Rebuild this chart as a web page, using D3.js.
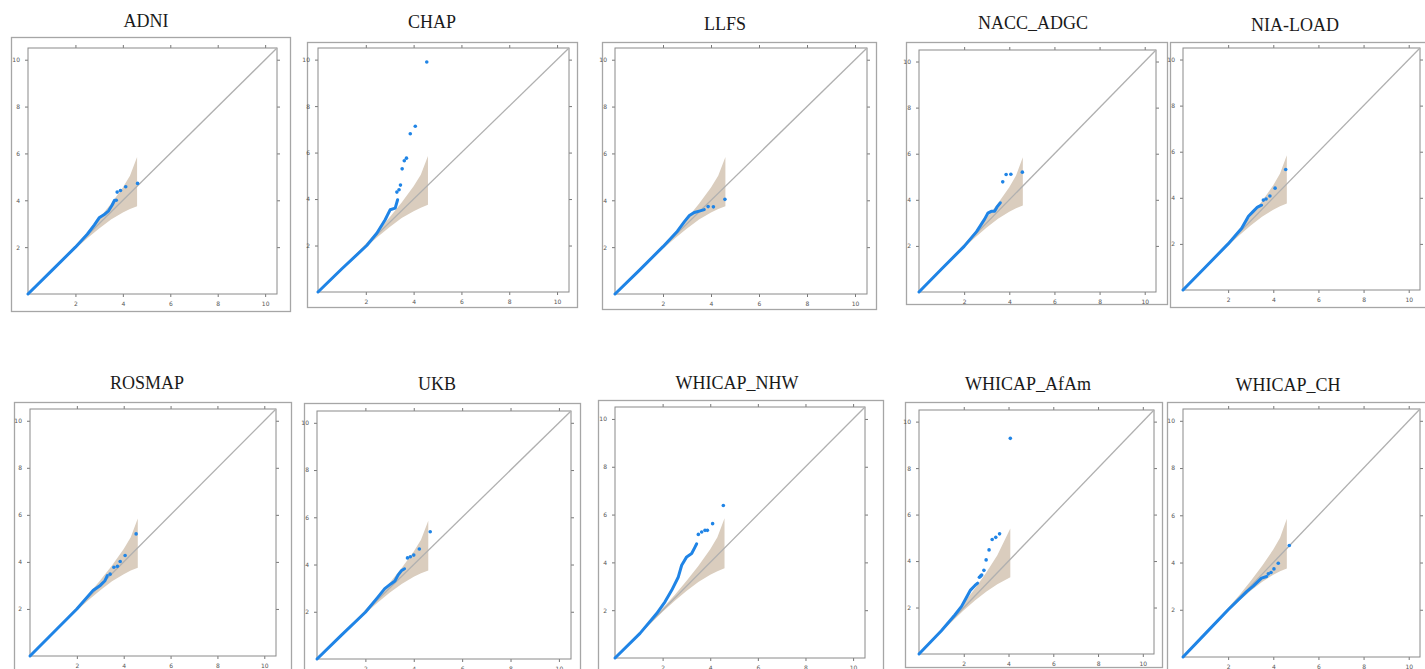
<!DOCTYPE html>
<html>
<head>
<meta charset="utf-8">
<script src="https://cdn.jsdelivr.net/npm/d3@7"></script>
<style>
    body { margin: 0; background: #fff; }
</style>
</head>
<body>
<div id="qqPanels"></div>
<script>
//panel titles (cohorts)
const panelNames = ['ADNI', 'CHAP', 'LLFS', 'NACC_ADGC', 'NIA-LOAD',
    'ROSMAP', 'UKB', 'WHICAP_NHW', 'WHICAP_AfAm', 'WHICAP_CH'];

//axis ticks, both axes (expected / observed -log10 p)
const tickValues = [2, 4, 6, 8, 10];
const axisMax = 10.5;

//confidence band
const bandX = [0, 1.5, 2.0, 2.5, 3.0, 3.5, 4.0, 4.3, 4.6];
const bandUpper = [0, 1.55, 2.08, 2.63, 3.22, 3.85, 4.55, 5.05, 5.85];
const bandLower = [0, 1.45, 1.93, 2.38, 2.8, 3.18, 3.48, 3.63, 3.75];
//smaller sample -> shorter band
const afamBandX = [0, 1.5, 2.0, 2.5, 3.0, 3.5, 4.08];
const afamBandUpper = [0, 1.6, 2.2, 2.82, 3.5, 4.25, 5.4];
const afamBandLower = [0, 1.42, 1.88, 2.3, 2.68, 3.0, 3.3];

//dense part of the points [expected, observed]
const adniCurve = [[0, 0], [1, 1], [2, 2], [2.5, 2.55], [2.8, 2.95], [3.0, 3.25], [3.2, 3.38], [3.4, 3.55], [3.55, 3.8], [3.65, 4.0]];
const chapCurve = [[0, 0], [1, 1], [2.04, 2.0], [2.46, 2.53], [2.81, 3.11], [2.91, 3.32], [3.02, 3.54], [3.23, 3.61], [3.33, 3.97]];
const llfsCurve = [[0, 0], [1, 1], [2, 2.02], [2.6, 2.68], [2.9, 3.1], [3.1, 3.35], [3.3, 3.48], [3.55, 3.55], [3.72, 3.6]];
const naccCurve = [[0, 0], [1, 1], [2, 1.98], [2.55, 2.62], [2.9, 3.15], [3.05, 3.42], [3.2, 3.5], [3.35, 3.5], [3.45, 3.68], [3.6, 3.87]];
const nialoadCurve = [[0, 0], [1, 1], [2, 2], [2.6, 2.68], [2.9, 3.2], [3.1, 3.4], [3.3, 3.6], [3.48, 3.68]];
const rosmapCurve = [[0, 0], [1, 1], [2, 2], [2.7, 2.8], [3.0, 3.0], [3.2, 3.2], [3.3, 3.42]];
const ukbCurve = [[0, 0], [1, 1], [2, 1.98], [2.5, 2.6], [2.8, 2.98], [3.05, 3.18], [3.22, 3.3], [3.35, 3.55], [3.5, 3.75], [3.62, 3.82]];
const nhwCurve = [[0, 0], [1.05, 1.03], [1.75, 1.86], [2.1, 2.35], [2.38, 2.83], [2.66, 3.39], [2.8, 3.88], [3.01, 4.23], [3.22, 4.37], [3.36, 4.64], [3.43, 4.78]];
const afamCurve = [[0, 0], [1, 1], [1.6, 1.68], [1.9, 2.05], [2.1, 2.4], [2.3, 2.75], [2.5, 2.95], [2.62, 3.05]];
const chCurve = [[0, 0], [1, 1], [2, 2], [2.82, 2.77], [3.11, 3.0], [3.33, 3.2], [3.48, 3.34], [3.71, 3.41]];

//sparse top hits
const adniDots = [[3.72, 4.0], [3.76, 4.35], [3.9, 4.42], [4.12, 4.58], [4.62, 4.72]];
const chapDots = [[3.3, 4.3], [3.39, 4.4], [3.45, 4.6], [3.52, 5.3], [3.61, 5.65], [3.7, 5.76], [3.86, 6.81], [4.07, 7.13], [4.55, 9.9]];
const llfsDots = [[3.88, 3.73], [4.1, 3.72], [4.58, 4.04]];
const naccDots = [[3.71, 4.78], [3.86, 5.1], [4.07, 5.11], [4.58, 5.2]];
const nialoadDots = [[3.56, 3.9], [3.68, 3.95], [3.85, 4.08], [4.08, 4.42], [4.55, 5.23]];
const rosmapDots = [[3.42, 3.48], [3.58, 3.77], [3.73, 3.81], [3.85, 4.02], [4.06, 4.27], [4.53, 5.19]];
const ukbDots = [[3.74, 4.28], [3.86, 4.33], [4.0, 4.4], [4.23, 4.66], [4.68, 5.39]];
const nhwDots = [[3.5, 5.17], [3.64, 5.27], [3.78, 5.34], [3.88, 5.34], [4.1, 5.62], [4.55, 6.38]];
const afamDots = [[2.7, 3.3], [2.75, 3.35], [2.8, 3.4], [2.9, 3.6], [3.0, 4.05], [3.13, 4.48], [3.27, 4.93], [3.43, 5.02], [3.6, 5.17], [4.08, 9.28]];
const chDots = [[3.78, 3.52], [3.9, 3.58], [4.03, 3.73], [4.22, 3.97], [4.71, 4.72]];

const curves = [adniCurve, chapCurve, llfsCurve, naccCurve, nialoadCurve, rosmapCurve, ukbCurve, nhwCurve, afamCurve, chCurve];
const dots = [adniDots, chapDots, llfsDots, naccDots, nialoadDots, rosmapDots, ukbDots, nhwDots, afamDots, chDots];

//layout of the collage: outer box, plot area [x0, y0, x1, y1] and title [cx, baseline]
const panelLayout = [
    {box: [11, 37, 290, 311], plot: [28, 48, 277, 294], title: [146, 27]},
    {box: [307, 42, 577, 307], plot: [318, 48, 569, 292], title: [432, 28]},
    {box: [602, 42, 876, 309], plot: [615, 48, 867, 294], title: [725, 30]},
    {box: [906, 42, 1167, 304], plot: [919, 50, 1156, 292], title: [1033, 29]},
    {box: [1170, 42, 1432, 307], plot: [1183, 48, 1420, 290], title: [1295, 31]},
    {box: [14, 402, 291, 690], plot: [30, 409, 276, 656], title: [147, 389]},
    {box: [304, 403, 580, 690], plot: [317, 411, 571, 659], title: [437, 390]},
    {box: [598, 400, 883, 690], plot: [615, 407, 865, 658], title: [737, 389]},
    {box: [905, 402, 1162, 667], plot: [919, 410, 1154, 654], title: [1028, 390]},
    {box: [1167, 402, 1432, 690], plot: [1183, 409, 1420, 657], title: [1288, 391]}
];

const pointColor = '#1f84e6';
const bandColor = '#dacdbe';

const svg = d3.select('#qqPanels')
    .append('svg')
    .attr('width', 1425)
    .attr('height', 669)
    .style('display', 'block');

panelNames.forEach((name, i) => {
    const L = panelLayout[i];
    const g = svg.append('g');

    //outer frame of the pasted figure
    g.append('rect')
        .attr('x', L.box[0] + 0.5)
        .attr('y', L.box[1] + 0.5)
        .attr('width', L.box[2] - L.box[0])
        .attr('height', L.box[3] - L.box[1])
        .attr('fill', '#fff')
        .attr('stroke', '#a6a6a6')
        .attr('stroke-width', 1.3);

    //title
    g.append('text')
        .attr('x', L.title[0])
        .attr('y', L.title[1])
        .attr('text-anchor', 'middle')
        .style('font-family', '"Liberation Serif", "Times New Roman", serif')
        .style('font-size', '18px')
        .attr('fill', '#1a1a1a')
        .text(name);

    const xScale = d3.scaleLinear().domain([0, axisMax]).range([L.plot[0], L.plot[2]]);
    const yScale = d3.scaleLinear().domain([0, axisMax]).range([L.plot[3], L.plot[1]]);

    //axes on all four sides, labels only bottom / left
    const axes = [
        {axis: d3.axisBottom(xScale), t: `translate(0,${L.plot[3]})`, lab: true},
        {axis: d3.axisLeft(yScale), t: `translate(${L.plot[0]},0)`, lab: true},
        {axis: d3.axisTop(xScale), t: `translate(0,${L.plot[1]})`, lab: false},
        {axis: d3.axisRight(yScale), t: `translate(${L.plot[2]},0)`, lab: false}
    ];
    axes.forEach(a => {
        const ax = g.append('g')
            .attr('transform', a.t)
            .call(a.axis.tickValues(tickValues).tickSize(3).tickPadding(5)
                .tickFormat(a.lab ? d3.format('d') : ''));
        ax.select('.domain').remove();
        ax.selectAll('line').attr('stroke', '#777');
        ax.selectAll('text')
            .style('font-family', '"DejaVu Sans", sans-serif')
            .style('font-size', '6px')
            .attr('fill', '#555');
    });

    //plot frame
    g.append('rect')
        .attr('x', L.plot[0])
        .attr('y', L.plot[1])
        .attr('width', L.plot[2] - L.plot[0])
        .attr('height', L.plot[3] - L.plot[1])
        .attr('fill', 'none')
        .attr('stroke', '#8a8a8a')
        .attr('stroke-width', 1);

    //confidence band
    const bx = name === 'WHICAP_AfAm' ? afamBandX : bandX;
    const bu = name === 'WHICAP_AfAm' ? afamBandUpper : bandUpper;
    const bl = name === 'WHICAP_AfAm' ? afamBandLower : bandLower;
    const band = bx.map((x, k) => ({x: x, hi: bu[k], lo: bl[k]}));
    g.append('path')
        .datum(band)
        .attr('fill', bandColor)
        .attr('d', d3.area()
            .x(d => xScale(d.x))
            .y0(d => yScale(d.lo))
            .y1(d => yScale(d.hi)));

    //expected = observed line
    g.append('path')
        .datum([[0, 0], [axisMax, axisMax]])
        .attr('fill', 'none')
        .attr('stroke', '#b0b0b0')
        .attr('stroke-width', 1.3)
        .attr('d', d3.line().x(d => xScale(d[0])).y(d => yScale(d[1])));

    //dense points, drawn as a thick run
    g.append('path')
        .datum(curves[i])
        .attr('fill', 'none')
        .attr('stroke', pointColor)
        .attr('stroke-width', 3)
        .attr('stroke-linecap', 'round')
        .attr('stroke-linejoin', 'round')
        .attr('d', d3.line().x(d => xScale(d[0])).y(d => yScale(d[1])));

    //single points
    g.append('g')
        .selectAll('circle')
        .data(dots[i])
        .join('circle')
        .attr('cx', d => xScale(d[0]))
        .attr('cy', d => yScale(d[1]))
        .attr('r', 1.8)
        .attr('fill', pointColor);
});
</script>
</body>
</html>
